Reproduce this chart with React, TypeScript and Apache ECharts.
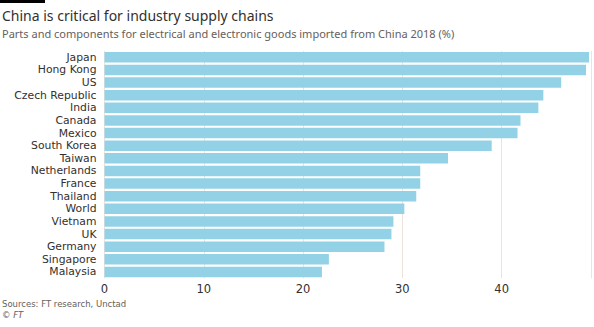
import React, { useEffect, useRef } from "react";
import * as echarts from "echarts";

const categories = [
  "Japan", "Hong Kong", "US", "Czech Republic", "India", "Canada", "Mexico",
  "South Korea", "Taiwan", "Netherlands", "France", "Thailand", "World",
  "Vietnam", "UK", "Germany", "Singapore", "Malaysia",
];
const values = [
  48.8, 48.5, 46.0, 44.2, 43.7, 41.9, 41.6, 39.0, 34.6, 31.8, 31.8, 31.4,
  30.2, 29.1, 28.9, 28.2, 22.6, 21.9,
];
const xTicks = [0, 10, 20, 30, 40];

const FONT = "'Noto Sans', sans-serif";
const SMALL = "'DejaVu Sans', sans-serif";

export default function App() {
  const ref = useRef<HTMLDivElement>(null);
  useEffect(() => {
    if (!ref.current) return;
    const chart = echarts.init(ref.current, null, { renderer: "svg" });
    chart.setOption({
      animation: false,
      backgroundColor: "#ffffff",
      textStyle: { fontFamily: FONT },
      graphic: [
        { type: "rect", x: 0, y: 0, shape: { width: 45, height: 3 }, style: { fill: "#000000" } },
        {
          type: "text", x: 2, y: 15.8,
          style: {
            text: "China is critical for industry supply chains", fill: "#33302e",
            font: `14px ${FONT}`, verticalAlign: "middle", lineHeight: 14,
          },
        },
        {
          type: "text", x: 2, y: 33,
          style: {
            text: "Parts and components for electrical and electronic goods imported from China 2018 (%)",
            fill: "#66605c", font: `11px ${FONT}`, verticalAlign: "middle", lineHeight: 11,
          },
        },
        {
          type: "text", x: 2, y: 304,
          style: {
            text: "Sources: FT research, Unctad", fill: "#66605c",
            font: `8.5px ${SMALL}`, verticalAlign: "middle", lineHeight: 9,
          },
        },
        {
          type: "text", x: 2, y: 315,
          style: {
            text: "© FT", fill: "#66605c",
            font: `italic 8.5px ${SMALL}`, verticalAlign: "middle", lineHeight: 9,
          },
        },
      ],
      grid: { left: 104.5, right: 2, top: 51, bottom: 327 - 278.3, containLabel: false },
      xAxis: {
        type: "value",
        min: 0,
        max: 49,
        interval: 10,
        axisLine: { show: false },
        axisTick: { show: false },
        axisLabel: {
          color: "#33302e", fontSize: 11.5, fontFamily: SMALL, margin: 5, lineHeight: 12,
          formatter: (v: number) => (xTicks.includes(v) ? String(v) : ""),
        },
        splitLine: { show: true, lineStyle: { color: "#eee3dc", width: 1 } },
      },
      yAxis: {
        type: "category",
        data: categories,
        inverse: true,
        axisLine: { show: false },
        axisTick: { show: false },
        axisLabel: { color: "#33302e", fontSize: 10.8, fontFamily: SMALL, margin: 8, interval: 0, lineHeight: 11 },
        splitLine: { show: false },
      },
      series: [
        {
          type: "bar",
          data: values,
          barWidth: "83%",
          itemStyle: { color: "#93d2e6" },
        },
      ],
    });
    return () => chart.dispose();
  }, []);
  return (
    <div
      ref={ref}
      style={{ position: "fixed", left: 0, top: 0, width: 594, height: 327, background: "#fff" }}
    />
  );
}
